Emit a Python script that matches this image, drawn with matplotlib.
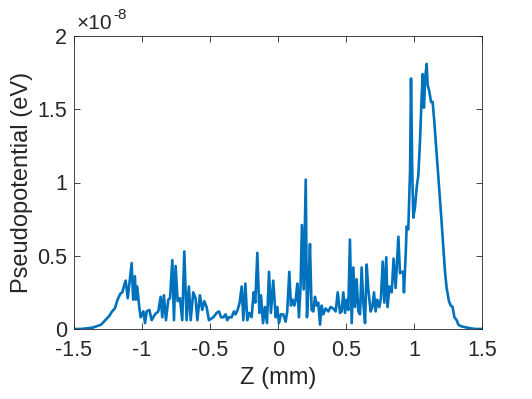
import matplotlib
matplotlib.use("Agg")
from matplotlib import pyplot as plt
from matplotlib.ticker import FuncFormatter

# Z position (mm) and pseudopotential (units of 1e-8 eV)
z_mm = [
    -1.5, -1.45, -1.40, -1.36, -1.33, -1.30, -1.28, -1.26, -1.24, -1.22,
    -1.20, -1.18, -1.16, -1.145, -1.13, -1.12, -1.105, -1.095, -1.076, -1.065,
    -1.052, -1.045, -1.035, -1.02, -1.01,
    -0.990, -0.978, -0.966, -0.946, -0.929, -0.905, -0.880, -0.863, -0.851, -0.839,
    -0.824, -0.807, -0.794, -0.777, -0.765, -0.753, -0.738, -0.721, -0.704, -0.689,
    -0.672, -0.655, -0.642, -0.623, -0.606, -0.593, -0.574, -0.557, -0.542, -0.525,
    -0.508,
    -0.476, -0.451, -0.434, -0.419, -0.402, -0.385, -0.373, -0.361, -0.341, -0.324,
    -0.312, -0.297, -0.282, -0.267, -0.255, -0.240, -0.226, -0.211, -0.194, -0.179,
    -0.167, -0.152, -0.137, -0.125, -0.110, -0.096, -0.081, -0.066, -0.052, -0.035,
    -0.017, -0.005, 0.007, 0.022, 0.039, 0.056, 0.068, 0.083, 0.095, 0.108,
    0.120, 0.130, 0.142, 0.154, 0.166, 0.176, 0.189, 0.204, 0.213, 0.225,
    0.235, 0.247, 0.260, 0.272, 0.284, 0.296, 0.309, 0.321, 0.333, 0.350,
    0.370, 0.387, 0.407, 0.424, 0.439, 0.456,
    0.468, 0.480, 0.493, 0.505, 0.517, 0.529, 0.542, 0.554, 0.566, 0.578,
    0.591, 0.603, 0.615, 0.627, 0.640, 0.652, 0.664, 0.681, 0.694, 0.706,
    0.718, 0.730, 0.745, 0.757, 0.770, 0.782, 0.796, 0.806, 0.819, 0.836,
    0.850, 0.865, 0.885, 0.897, 0.909, 0.921,
    0.926, 0.939, 0.946, 0.958, 0.971, 0.978, 0.988, 0.995, 1.007, 1.020,
    1.032, 1.044, 1.056, 1.064, 1.073, 1.083, 1.093, 1.100, 1.113, 1.125,
    1.137, 1.149, 1.167, 1.184, 1.203, 1.216, 1.228, 1.240, 1.257, 1.270,
    1.284, 1.297, 1.314, 1.326, 1.343, 1.363, 1.387, 1.424, 1.46, 1.5,
]
pseudo_pot = [
    0.0, 0.0, 0.005, 0.01, 0.02, 0.03, 0.05, 0.07, 0.09, 0.12,
    0.14, 0.20, 0.24, 0.25, 0.30, 0.33, 0.21, 0.29, 0.45, 0.20,
    0.36, 0.20, 0.29, 0.15, 0.08,
    0.12, 0.04, 0.12, 0.13, 0.06, 0.10, 0.12, 0.22, 0.08, 0.23,
    0.06, 0.20, 0.21, 0.47, 0.06, 0.43, 0.19, 0.21, 0.06, 0.53,
    0.06, 0.29, 0.06, 0.25, 0.21, 0.06, 0.23, 0.13, 0.19, 0.15,
    0.06,
    0.08, 0.11, 0.12, 0.08, 0.08, 0.10, 0.06, 0.08, 0.08, 0.12,
    0.10, 0.13, 0.18, 0.29, 0.06, 0.31, 0.06, 0.11, 0.08, 0.25,
    0.18, 0.52, 0.11, 0.23, 0.04, 0.15, 0.04, 0.39, 0.11, 0.33,
    0.08, 0.15, 0.04, 0.10, 0.10, 0.05, 0.12, 0.39, 0.16, 0.20,
    0.16, 0.20, 0.31, 0.08, 0.29, 0.71, 0.27, 1.02, 0.08, 0.30,
    0.58, 0.13, 0.12, 0.22, 0.16, 0.18, 0.03, 0.16, 0.10, 0.14,
    0.12, 0.15, 0.14, 0.12, 0.25, 0.11,
    0.12, 0.25, 0.11, 0.20, 0.13, 0.61, 0.04, 0.42, 0.15, 0.34,
    0.12, 0.10, 0.42, 0.18, 0.04, 0.44, 0.27, 0.12, 0.15, 0.25,
    0.12, 0.20, 0.15, 0.21, 0.46, 0.18, 0.49, 0.15, 0.29, 0.25,
    0.48, 0.28, 0.63, 0.38, 0.39, 0.39,
    0.25, 0.51, 0.70, 0.68, 1.08, 1.71, 1.03, 0.76, 0.83, 0.97,
    1.05, 1.28, 1.58, 1.74, 1.51, 1.72, 1.81, 1.67, 1.62, 1.55,
    1.55, 1.42, 1.19, 0.97, 0.73, 0.55, 0.39, 0.28, 0.19, 0.16,
    0.15, 0.08, 0.06, 0.03, 0.02, 0.015, 0.01, 0.003, 0.0, 0.0,
]
x_ticks = [-1.5, -1, -0.5, 0, 0.5, 1, 1.5]
y_ticks = [0, 0.5, 1, 1.5, 2]

plt.rcParams['font.family'] = ['Liberation Sans', 'DejaVu Sans']
axis_grey = '#262626'

fig = plt.figure(figsize=(5.32, 3.99), dpi=100)
ax = fig.add_axes([74 / 532, 70 / 399, 408 / 532, 293 / 399])

ax.plot(z_mm, pseudo_pot, color='#0072BD', linewidth=1.9)

ax.set_xlim(-1.5, 1.5)
ax.set_ylim(0, 2)
ax.set_xticks(x_ticks)
ax.set_yticks(y_ticks)
ax.xaxis.set_major_formatter(FuncFormatter(lambda v, p: '%g' % v))
ax.yaxis.set_major_formatter(FuncFormatter(lambda v, p: '%g' % v))
ax.tick_params(direction='in', length=4, width=0.6, colors=axis_grey,
               labelsize=15.5, top=True, right=True)
ax.tick_params(axis='x', pad=8)
ax.tick_params(axis='y', pad=5)
for spine in ax.spines.values():
    spine.set_color(axis_grey)
    spine.set_linewidth(0.6)

ax.set_xlabel('Z (mm)', fontsize=17, color=axis_grey, labelpad=4)
ax.set_ylabel('Pseudopotential (eV)', fontsize=17, color=axis_grey, labelpad=3)

# exponent label in MATLAB style
ax.text(0.007, 1.024, '\u00d710', transform=ax.transAxes, fontsize=15,
        color=axis_grey, va='baseline', ha='left')
ax.text(0.096, 1.058, '-8', transform=ax.transAxes, fontsize=11,
        color=axis_grey, va='baseline', ha='left')

fig.savefig('out.png', dpi=100)
